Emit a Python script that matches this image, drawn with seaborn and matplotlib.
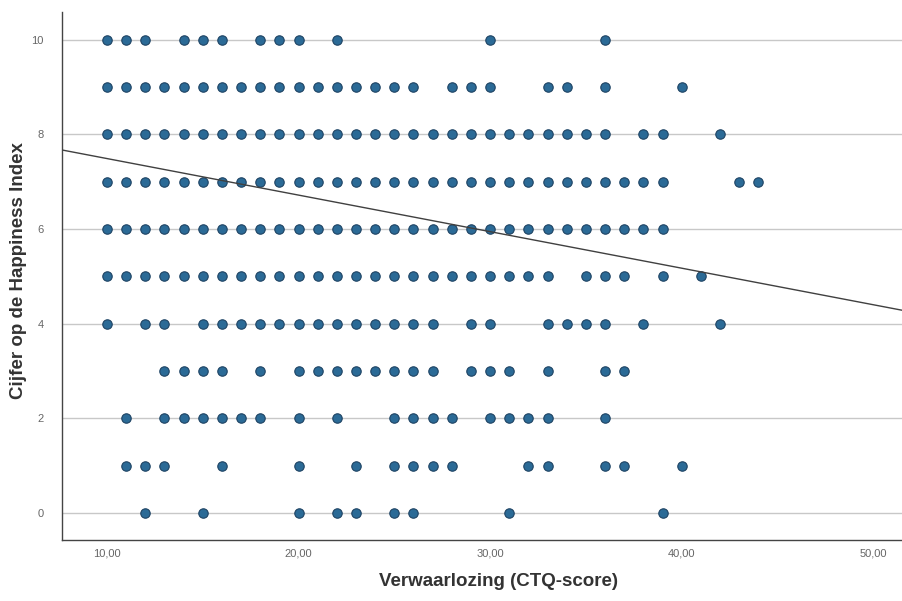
import pandas as pd
import seaborn as sns
import matplotlib.pyplot as plt
from matplotlib.ticker import FuncFormatter

# CTQ-scores that occur for each happiness score
ctq_10 = [10, 11, 12, 14, 15, 16, 18, 19, 20, 22, 30, 36]
ctq_9 = list(range(10, 27)) + [28, 29, 30, 33, 34, 36, 40]
ctq_8 = list(range(10, 37)) + [38, 39, 42]
ctq_7 = list(range(10, 40)) + [43, 44]
ctq_6 = list(range(10, 40))
ctq_5 = list(range(10, 34)) + [35, 36, 37, 39, 41]
ctq_4 = [10, 12, 13] + list(range(15, 28)) + [29, 30, 33, 34, 35, 36, 38, 42]
ctq_3 = [13, 14, 15, 16, 18] + list(range(20, 28)) + [29, 30, 31, 33, 36, 37]
ctq_2 = [11, 13, 14, 15, 16, 17, 18, 20, 22, 25, 26, 27, 28, 30, 31, 32, 33, 36]
ctq_1 = [11, 12, 13, 16, 20, 23, 25, 26, 27, 28, 32, 33, 36, 37, 40]
ctq_0 = [12, 15, 20, 22, 23, 25, 26, 31, 39]

# fit line (intercept, slope)
fit_intercept = 8.26
fit_slope = -0.0772

rijen = {10: ctq_10, 9: ctq_9, 8: ctq_8, 7: ctq_7, 6: ctq_6, 5: ctq_5,
         4: ctq_4, 3: ctq_3, 2: ctq_2, 1: ctq_1, 0: ctq_0}
dados = pd.DataFrame(
    [(x, y) for y, xs in rijen.items() for x in xs],
    columns=["CTQ", "Happiness"],
)

sns.set_style("white")
plt.rcParams["font.family"] = ["Liberation Sans", "DejaVu Sans"]

fig = plt.figure(figsize=(9.02, 6.01), dpi=100)
ax = fig.add_axes([0.0687, 0.1015, 0.9313, 0.879])

ax.set_xlim(7.65, 51.5)
ax.set_ylim(-0.57, 10.59)
ax.set_yticks([0, 2, 4, 6, 8, 10])
ax.set_xticks([10, 20, 30, 40, 50])
ax.yaxis.grid(True, color="#c8c8c8", linewidth=1.0)
ax.set_axisbelow(True)

sns.scatterplot(
    x="CTQ", y="Happiness", data=dados, ax=ax,
    color="#2b6a96", edgecolor="#1e4363", linewidth=0.8, s=46, zorder=3,
)

xs = [7.65, 51.5]
ax.plot(xs, [fit_intercept + fit_slope * x for x in xs],
        color="#404040", linewidth=1.0, zorder=4)

ax.xaxis.set_major_formatter(FuncFormatter(lambda v, p: f"{v:.2f}".replace(".", ",")))
ax.tick_params(axis="both", labelsize=8, colors="#666666", length=0)
ax.tick_params(axis="x", pad=6)
ax.tick_params(axis="y", pad=13)

sns.despine(ax=ax, top=True, right=True)
for side in ["left", "bottom"]:
    ax.spines[side].set_color("#444444")
    ax.spines[side].set_linewidth(1.0)

ax.set_xlabel("Verwaarlozing (CTQ-score)", fontsize=13.5, fontweight="bold",
              color="#333333")
ax.set_ylabel("Cijfer op de Happiness Index", fontsize=13.5, fontweight="bold",
              color="#333333")
ax.xaxis.set_label_coords(0.52, -0.062)
ax.yaxis.set_label_coords(-0.042, 0.51)

fig.savefig("out.png", dpi=100)
